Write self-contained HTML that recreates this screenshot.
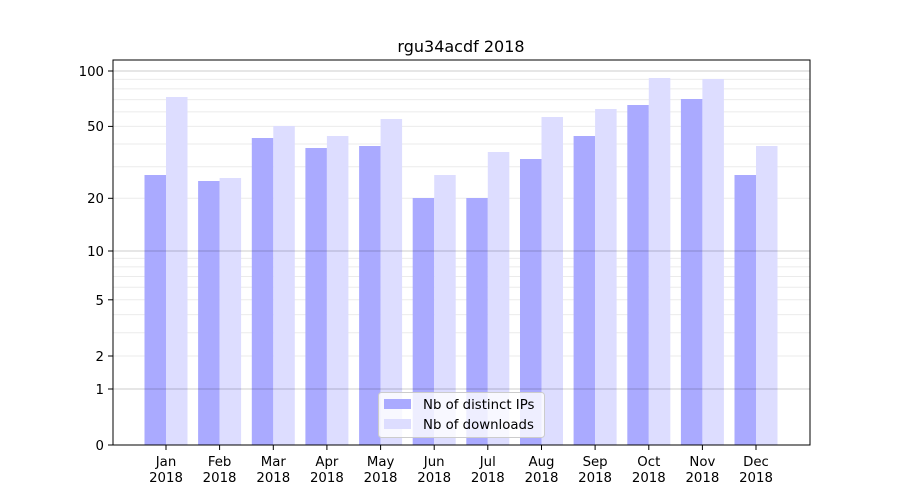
<!DOCTYPE html>
<html><head><meta charset="utf-8"><style>body{margin:0;background:#fff}svg{display:block}</style></head><body>
<svg width="900" height="500" xmlns="http://www.w3.org/2000/svg" font-family="DejaVu Sans, Liberation Sans, sans-serif" font-size="13.3">
<rect width="900" height="500" fill="#fff"/>
<g stroke="#ebebeb" stroke-width="1">
<line x1="113" x2="810" y1="356" y2="356"/><line x1="113" x2="810" y1="332.7" y2="332.7"/><line x1="113" x2="810" y1="314.6" y2="314.6"/><line x1="113" x2="810" y1="299.8" y2="299.8"/><line x1="113" x2="810" y1="287.3" y2="287.3"/><line x1="113" x2="810" y1="276.5" y2="276.5"/><line x1="113" x2="810" y1="266.9" y2="266.9"/><line x1="113" x2="810" y1="258.4" y2="258.4"/>
<line x1="113" x2="810" y1="198.3" y2="198.3"/><line x1="113" x2="810" y1="166.7" y2="166.7"/><line x1="113" x2="810" y1="144" y2="144"/><line x1="113" x2="810" y1="126.4" y2="126.4"/><line x1="113" x2="810" y1="111.9" y2="111.9"/><line x1="113" x2="810" y1="99.6" y2="99.6"/><line x1="113" x2="810" y1="88.9" y2="88.9"/><line x1="113" x2="810" y1="79.4" y2="79.4"/>
</g>
<g fill="#aaaaff">
<rect x="144.5" y="175" width="21.5" height="270"/>
<rect x="198.1" y="181" width="21.5" height="264"/>
<rect x="251.8" y="138" width="21.5" height="307"/>
<rect x="305.4" y="148" width="21.5" height="297"/>
<rect x="359.1" y="146" width="21.5" height="299"/>
<rect x="412.7" y="198" width="21.5" height="247"/>
<rect x="466.3" y="198" width="21.5" height="247"/>
<rect x="520" y="159" width="21.5" height="286"/>
<rect x="573.6" y="136" width="21.5" height="309"/>
<rect x="627.3" y="105" width="21.5" height="340"/>
<rect x="680.9" y="99" width="21.5" height="346"/>
<rect x="734.5" y="175" width="21.5" height="270"/>
</g>
<g fill="#ddddff">
<rect x="166" y="97" width="21.5" height="348"/>
<rect x="219.6" y="178" width="21.5" height="267"/>
<rect x="273.3" y="126" width="21.5" height="319"/>
<rect x="326.9" y="136" width="21.5" height="309"/>
<rect x="380.6" y="119" width="21.5" height="326"/>
<rect x="434.2" y="175" width="21.5" height="270"/>
<rect x="487.8" y="152" width="21.5" height="293"/>
<rect x="541.5" y="117" width="21.5" height="328"/>
<rect x="595.1" y="109" width="21.5" height="336"/>
<rect x="648.8" y="78" width="21.5" height="367"/>
<rect x="702.4" y="79" width="21.5" height="366"/>
<rect x="756" y="146" width="21.5" height="299"/>
</g>
<g stroke="#000" stroke-opacity="0.2" stroke-width="1">
<line x1="113" x2="810" y1="389" y2="389"/><line x1="113" x2="810" y1="251" y2="251"/><line x1="113" x2="810" y1="71" y2="71"/>
</g>
<rect x="113" y="60" width="697" height="385" fill="none" stroke="#000" stroke-width="1"/>
<g stroke="#000">
<line x1="108" x2="113" y1="445" y2="445"/><line x1="108" x2="113" y1="389" y2="389"/><line x1="108" x2="113" y1="356" y2="356"/><line x1="108" x2="113" y1="299.8" y2="299.8"/><line x1="108" x2="113" y1="251" y2="251"/><line x1="108" x2="113" y1="198.3" y2="198.3"/><line x1="108" x2="113" y1="126.4" y2="126.4"/><line x1="108" x2="113" y1="71" y2="71"/>
<line y1="445" y2="450" x1="166" x2="166"/><line y1="445" y2="450" x1="219.6" x2="219.6"/><line y1="445" y2="450" x1="273.3" x2="273.3"/><line y1="445" y2="450" x1="326.9" x2="326.9"/><line y1="445" y2="450" x1="380.6" x2="380.6"/><line y1="445" y2="450" x1="434.2" x2="434.2"/><line y1="445" y2="450" x1="487.8" x2="487.8"/><line y1="445" y2="450" x1="541.5" x2="541.5"/><line y1="445" y2="450" x1="595.1" x2="595.1"/><line y1="445" y2="450" x1="648.8" x2="648.8"/><line y1="445" y2="450" x1="702.4" x2="702.4"/><line y1="445" y2="450" x1="756" x2="756"/>
</g>
<g text-anchor="end" fill="#000">
<text x="104" y="450">0</text><text x="104" y="394">1</text><text x="104" y="361">2</text><text x="104" y="305">5</text><text x="104" y="256">10</text><text x="104" y="203">20</text><text x="104" y="131">50</text><text x="104" y="76">100</text>
</g>
<g text-anchor="middle" fill="#000">
<text x="166" y="466">Jan</text><text x="166" y="482">2018</text>
<text x="219.6" y="466">Feb</text><text x="219.6" y="482">2018</text>
<text x="273.3" y="466">Mar</text><text x="273.3" y="482">2018</text>
<text x="326.9" y="466">Apr</text><text x="326.9" y="482">2018</text>
<text x="380.6" y="466">May</text><text x="380.6" y="482">2018</text>
<text x="434.2" y="466">Jun</text><text x="434.2" y="482">2018</text>
<text x="487.8" y="466">Jul</text><text x="487.8" y="482">2018</text>
<text x="541.5" y="466">Aug</text><text x="541.5" y="482">2018</text>
<text x="595.1" y="466">Sep</text><text x="595.1" y="482">2018</text>
<text x="648.8" y="466">Oct</text><text x="648.8" y="482">2018</text>
<text x="702.4" y="466">Nov</text><text x="702.4" y="482">2018</text>
<text x="756" y="466">Dec</text><text x="756" y="482">2018</text>
<text x="461" y="52" font-size="16">rgu34acdf 2018</text>
</g>
<rect x="378.5" y="392.5" width="166" height="45" rx="3" fill="#fff" fill-opacity="0.8" stroke="#ccc"/>
<rect x="384" y="399" width="27" height="10" fill="#aaaaff"/>
<rect x="384" y="419" width="27" height="10" fill="#ddddff"/>
<text x="423" y="409" fill="#000">Nb of distinct IPs</text>
<text x="423" y="429" fill="#000">Nb of downloads</text>
</svg>
</body></html>
